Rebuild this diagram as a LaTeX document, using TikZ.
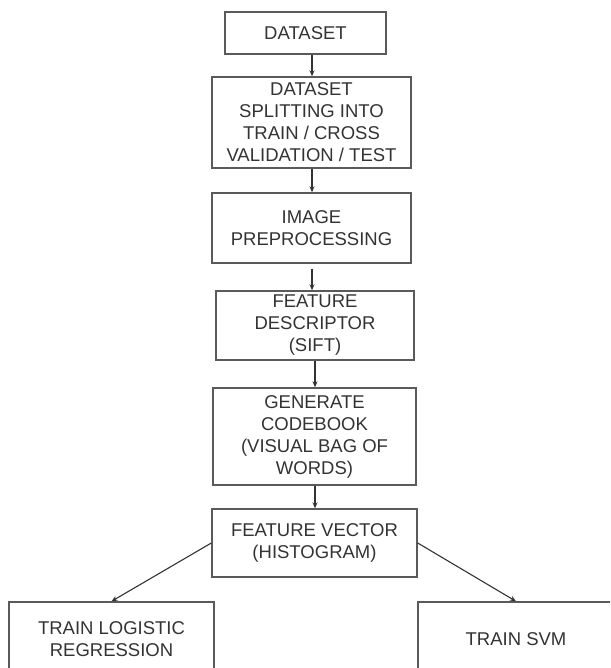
\documentclass[tikz,border=0pt]{standalone}
\usepackage{fontspec}
\setmainfont{Liberation Sans}
\usetikzlibrary{arrows.meta}
\definecolor{edge}{HTML}{5A5A5A}
\definecolor{ink}{HTML}{333333}
\begin{document}
\begin{tikzpicture}[x=1pt,y=-1pt,
  box/.style={draw=edge, line width=1.4pt, rectangle, inner sep=0pt,
    align=center, text=ink, font=\fontsize{18.5}{22}\selectfont},
  flow/.style={draw=ink, line width=1.1pt, -{Stealth[length=6pt,width=5pt]}}]
  \useasboundingbox (0,0) rectangle (610,668);
  \clip (0,0) rectangle (610,668);

  % main pipeline
  \node[box, minimum width=161pt, minimum height=42pt] (ds) at (305.5,33) {DATASET};
  \node[box, minimum width=199pt, minimum height=91pt] (split) at (311.5,122.5)
    {DATASET\\SPLITTING INTO\\TRAIN / CROSS\\VALIDATION / TEST};
  \node[box, minimum width=199pt, minimum height=70pt] (prep) at (311.5,228)
    {IMAGE\\PREPROCESSING};
  \node[box, minimum width=198pt, minimum height=69pt] (desc) at (315,325.5)
    {FEATURE\\DESCRIPTOR\\(SIFT)};
  \node[box, minimum width=203pt, minimum height=97pt] (code) at (314.5,436.5)
    {GENERATE\\CODEBOOK\\(VISUAL BAG OF\\WORDS)};
  \node[box, minimum width=205pt, minimum height=68pt] (vec) at (314.5,543)
    {FEATURE VECTOR\\(HISTOGRAM)};

  % classifiers (boxes run past the lower edge)
  \node[box, minimum width=205pt, minimum height=74pt] (lr) at (111.5,639)
    {TRAIN LOGISTIC\\REGRESSION};
  \node[box, minimum width=196pt, minimum height=74pt] (svm) at (516,639)
    {TRAIN SVM};

  % connectors
  \draw[flow] (ds.south -| 312,0) -- (split.north -| 312,0);
  \draw[flow] (split.south -| 312,0) -- (prep.north -| 312,0);
  \draw[flow, shorten <=5pt] (prep.south -| 312,0) -- (desc.north -| 312,0);
  \draw[flow] (desc.south -| 315,0) -- (code.north -| 315,0);
  \draw[flow] (code.south -| 315,0) -- (vec.north -| 315,0);
  \draw[flow] (vec.west) -- (lr.north);
  \draw[flow] (vec.east) -- (svm.north);
\end{tikzpicture}
\end{document}
